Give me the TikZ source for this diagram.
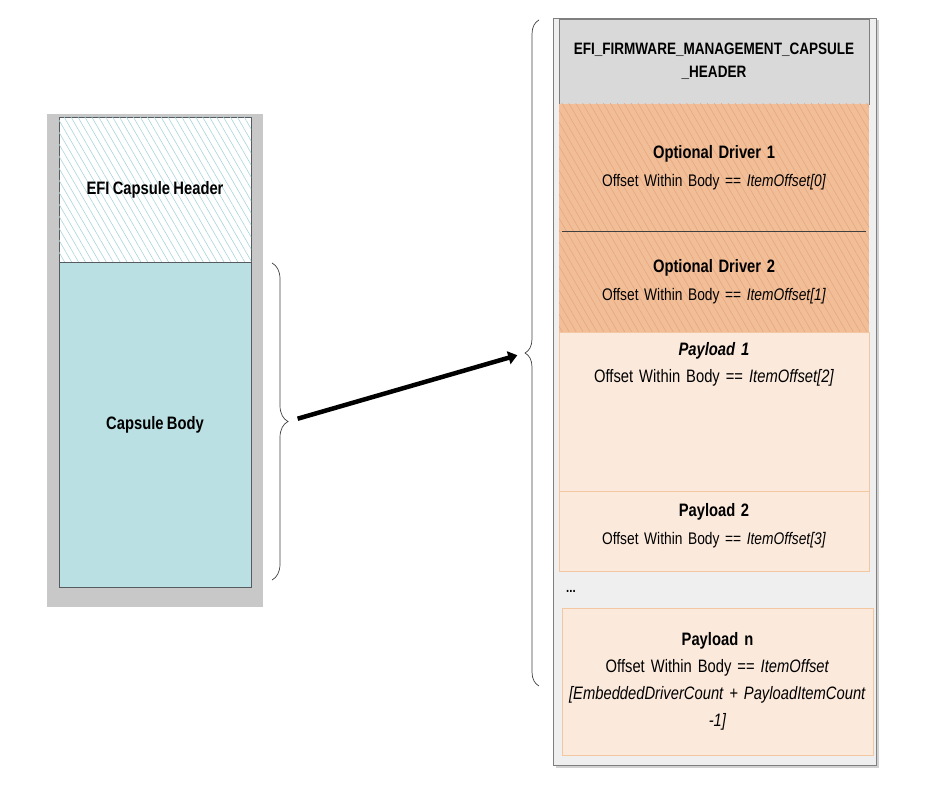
\documentclass[tikz,border=0pt]{standalone}
\usepackage{fontspec}
\setmainfont{Liberation Sans}[FakeStretch=0.82, WordSpace=0.8]
\usepackage{tikz}
\usetikzlibrary{patterns.meta,decorations.pathreplacing,arrows.meta,shadows}

\definecolor{panelgray}{HTML}{C8C8C8}
\definecolor{boxedge}{HTML}{555B5E}
\definecolor{hatchblue}{HTML}{A9D5DC}
\definecolor{bodyblue}{HTML}{BBE0E3}
\definecolor{panelfill}{HTML}{EFEFEF}
\definecolor{panelline}{HTML}{7F7F7F}
\definecolor{hdrgray}{HTML}{D9D9D9}
\definecolor{drvorange}{HTML}{F1BE98}
\definecolor{hatchorange}{HTML}{E8A87E}
\definecolor{plfill}{HTML}{FBE9DB}
\definecolor{plline}{HTML}{F4C7A3}
\newcommand{\ttlfont}{\fontsize{18}{28}\selectfont\bfseries}

\begin{document}
\begin{tikzpicture}[x=1pt,y=-1pt,
    lbox/.style={rectangle, draw=boxedge, line width=.8pt, minimum width=192pt, inner sep=0pt,
        font=\fontsize{18}{27}\selectfont\bfseries},
    rbox/.style={rectangle, minimum width=310pt, inner sep=0pt, align=center, text width=306pt,
        font=\fontsize{16.8}{28}\selectfont},
    plbox/.style={rbox, fill=plfill, draw=plline, line width=.8pt},
    drvbox/.style={rbox, fill=drvorange,
        postaction={pattern={Lines[angle=-60,distance=6pt,line width=.6pt]}, pattern color=hatchorange}},
    brc/.style={decorate, decoration={brace, amplitude=#1}, draw=black!75, line width=.7pt},
    fatarrow/.style={-{Triangle[length=9pt,width=13pt]}, line width=4.5pt, shorten <=10pt, shorten >=8pt}
    ]

    \useasboundingbox (0,0) rectangle (935,786);

    % left: the capsule
    \node[fill=panelgray, minimum width=216pt, minimum height=493pt] (lpanel) at (155,360.5) {};
    \node[lbox, minimum height=145pt, fill=white,
        postaction={pattern={Lines[angle=-60,distance=6pt,line width=.6pt]}, pattern color=hatchblue}]
        (caphdr) at (155,189.5) {EFI Capsule Header};
    \node[lbox, minimum height=325pt, fill=bodyblue] (capbody) at (155,424.5) {Capsule Body};

    % right: the capsule body
    \node[fill=panelfill, draw=panelline, line width=.8pt, minimum width=323pt, minimum height=747pt,
        drop shadow={shadow xshift=2.5pt, shadow yshift=-2.5pt, fill=black!18, opacity=1}]
        (fmp) at (714.5,391.5) {};
    \node[rbox, fill=hdrgray, draw=panelline, line width=.6pt, minimum height=85pt,
        font=\fontsize{16.5}{23}\selectfont\bfseries]
        (fmphdr) at (714,61.5) {EFI\_FIRMWARE\_MANAGEMENT\_CAPSULE\\\_HEADER};
    \node[drvbox, minimum height=127pt] (drv1) at (714,167.5)
        {{\ttlfont Optional Driver 1}\\Offset Within Body == \textit{ItemOffset[0]}};
    \node[drvbox, minimum height=101pt] (drv2) at (714,281.5)
        {{\ttlfont Optional Driver 2}\\Offset Within Body == \textit{ItemOffset[1]}};
    \draw[line width=.8pt, black!75] ([xshift=3pt]drv1.south west) -- ([xshift=-3pt]drv1.south east);
    \node[plbox, minimum height=159pt] (pl1) at (714,411.5) {};
    \node[rbox, font=\fontsize{18}{27}\selectfont] (pl1txt) at (714,364.5)
        {{\ttlfont\itshape Payload 1}\\Offset Within Body == \textit{ItemOffset[2]}};
    \node[plbox, minimum height=80pt] (pl2) at (714,531) {};
    \node[rbox] (pl2txt) at (714,526)
        {{\ttlfont Payload 2}\\Offset Within Body == \textit{ItemOffset[3]}};
    \node[font=\fontsize{14}{16}\selectfont\bfseries] (dots) at (571,591) {...};
    \node[plbox, minimum width=311pt, minimum height=147pt, font=\fontsize{18}{27}\selectfont]
        (pln) at (717.5,681.5)
        {{\ttlfont Payload n}\\Offset Within Body == \textit{ItemOffset}\\
        \textit{[EmbeddedDriverCount + PayloadItemCount}\\\textit{-1]}};

    % braces and arrow
    \draw[brc=16pt] (272,263) -- (272,580);
    \draw[brc=14pt] (539,686) -- (539,20);
    \coordinate (bodytip) at (288,421.5);
    \coordinate (fmptip) at (525,353);
    \draw[fatarrow] (bodytip) -- (fmptip);
\end{tikzpicture}
\end{document}
